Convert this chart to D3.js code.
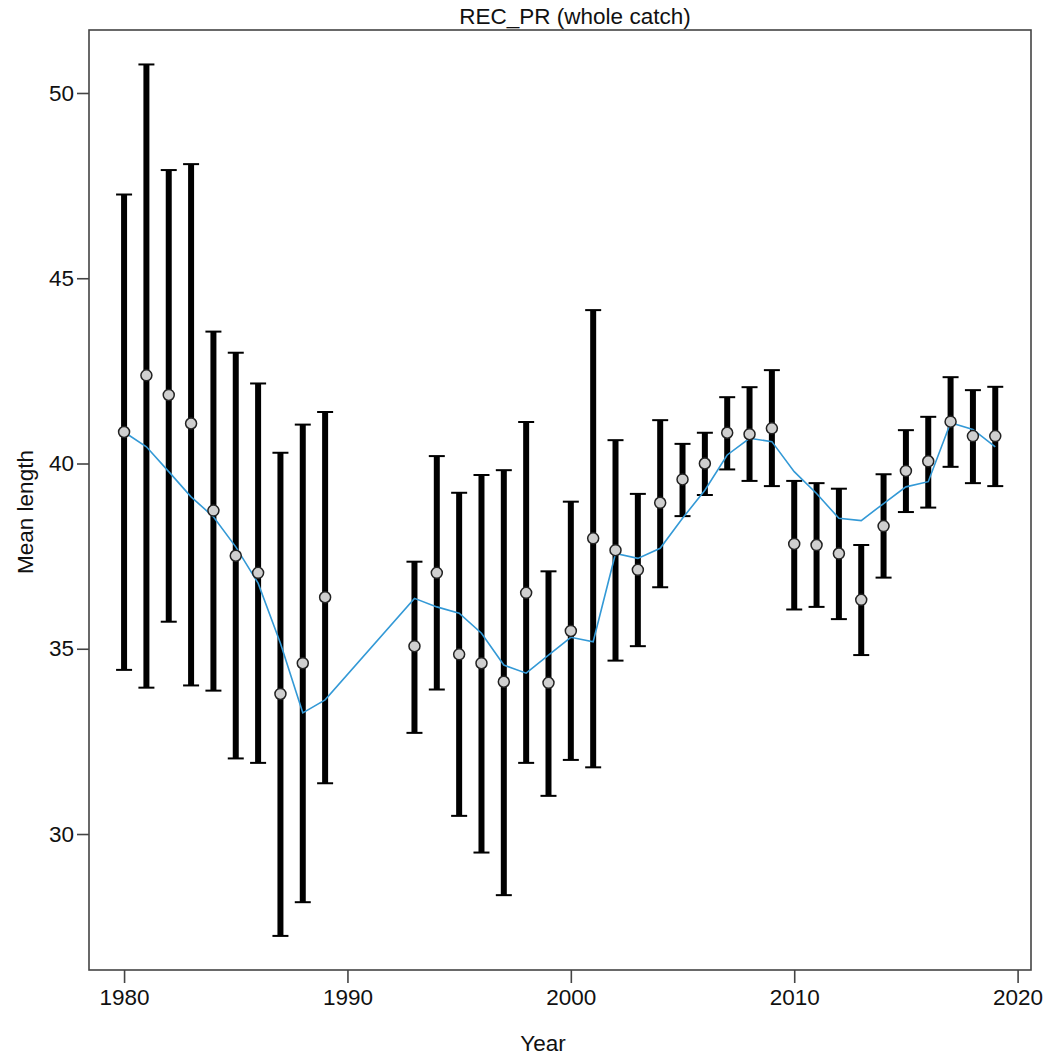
<!DOCTYPE html>
<html>
<head>
<meta charset="utf-8">
<script src="https://cdn.jsdelivr.net/npm/d3@7"></script>
<style>
  html, body { margin: 0; padding: 0; background: #fff; }
  svg { display: block; }
  text { font-family: "Liberation Sans", Arial, sans-serif; fill: #111; }
</style>
</head>
<body>
<svg id="chart" width="1050" height="1057"></svg>
<script>
const title = "REC_PR (whole catch)";
const xLabel = "Year";
const yLabel = "Mean length";

const years = [1980,1981,1982,1983,1984,1985,1986,1987,1988,1989,
  1993,1994,1995,1996,1997,1998,1999,2000,2001,2002,2003,2004,2005,
  2006,2007,2008,2009,2010,2011,2012,2013,2014,2015,2016,2017,2018,2019];
const meanLen = [40.85,42.38,41.85,41.08,38.73,37.51,37.05,33.78,34.61,36.39,
  35.07,37.05,34.85,34.61,34.11,36.51,34.08,35.48,37.98,37.66,37.13,38.94,39.57,
  40.00,40.83,40.79,40.95,37.83,37.80,37.57,36.32,38.31,39.80,40.06,41.13,40.74,40.74];
const lowerCI = [34.43,33.95,35.73,34.01,33.87,32.04,31.92,27.25,28.16,31.37,
  32.73,33.90,30.49,29.50,28.35,31.92,31.03,32.00,31.80,34.68,35.07,36.66,38.58,
  39.15,39.84,39.53,39.39,36.06,36.13,35.80,34.83,36.92,38.69,38.81,39.91,39.47,39.39];
const upperCI = [47.26,50.77,47.92,48.08,43.56,42.99,42.16,40.29,41.05,41.39,
  37.35,40.20,39.21,39.69,39.82,41.12,37.09,38.97,44.14,40.63,39.18,41.17,40.53,
  40.83,41.79,42.06,42.52,39.53,39.47,39.32,37.80,39.71,40.90,41.26,42.33,41.98,42.07];
const smoothFit = [40.85,40.45,39.78,39.10,38.56,37.75,36.77,35.15,33.27,33.62,
  36.36,36.13,35.96,35.42,34.56,34.34,34.83,35.31,35.19,37.57,37.44,37.71,38.52,
  39.28,40.23,40.68,40.59,39.78,39.19,38.52,38.46,38.92,39.37,39.51,41.10,40.92,40.45];
const xTicks = [1980,1990,2000,2010,2020];
const yTicks = [30,35,40,45,50];

const svg = d3.select("#chart");
const mLeft = 89, mRight = 1031, mTop = 30, mBottom = 970;

const x = d3.scaleLinear().domain([1978.43, 2020.6]).range([mLeft, mRight]);
const y = d3.scaleLinear().domain([26.33, 51.70]).range([mBottom, mTop]);

// frame
svg.append("rect")
  .attr("x", mLeft).attr("y", mTop)
  .attr("width", mRight - mLeft).attr("height", mBottom - mTop)
  .attr("fill", "none").attr("stroke", "#444").attr("stroke-width", 1.6);

// axes
const xAxis = d3.axisBottom(x).tickValues(xTicks).tickFormat(d3.format("d"))
  .tickSizeInner(13).tickSizeOuter(0).tickPadding(6);
const gx = svg.append("g").attr("transform", `translate(0,${mBottom})`).call(xAxis);
gx.select(".domain").remove();
gx.selectAll("line").attr("stroke", "#444").attr("stroke-width", 1.6);
gx.selectAll("text").style("font-size", "22.5px").attr("fill", "#111")
  .style("font-family", "'Liberation Sans', Arial, sans-serif");

const yAxis = d3.axisLeft(y).tickValues(yTicks).tickFormat(d3.format("d"))
  .tickSizeInner(12).tickSizeOuter(0).tickPadding(3);
const gy = svg.append("g").attr("transform", `translate(${mLeft},0)`).call(yAxis);
gy.select(".domain").remove();
gy.selectAll("line").attr("stroke", "#444").attr("stroke-width", 1.6);
gy.selectAll("text").style("font-size", "22.5px").attr("fill", "#111")
  .style("font-family", "'Liberation Sans', Arial, sans-serif");

// labels
svg.append("text").attr("x", 575).attr("y", 24).attr("text-anchor", "middle")
  .style("font-size", "22.5px").text(title);
svg.append("text").attr("x", 543).attr("y", 1051).attr("text-anchor", "middle")
  .style("font-size", "22.5px").text(xLabel);
svg.append("text").attr("transform", "translate(33,512) rotate(-90)")
  .attr("text-anchor", "middle").style("font-size", "22.5px").text(yLabel);

const data = years.map((yr, i) => ({yr, m: meanLen[i], lo: lowerCI[i], hi: upperCI[i], f: smoothFit[i]}));

// error bars
const eb = svg.append("g");
eb.selectAll("line.bar").data(data).join("line").attr("class", "bar")
  .attr("x1", d => x(d.yr)).attr("x2", d => x(d.yr))
  .attr("y1", d => y(d.lo)).attr("y2", d => y(d.hi))
  .attr("stroke", "#000").attr("stroke-width", 6);
eb.selectAll("line.capHi").data(data).join("line").attr("class", "capHi")
  .attr("x1", d => x(d.yr) - 8).attr("x2", d => x(d.yr) + 8)
  .attr("y1", d => y(d.hi)).attr("y2", d => y(d.hi))
  .attr("stroke", "#000").attr("stroke-width", 2);
eb.selectAll("line.capLo").data(data).join("line").attr("class", "capLo")
  .attr("x1", d => x(d.yr) - 8).attr("x2", d => x(d.yr) + 8)
  .attr("y1", d => y(d.lo)).attr("y2", d => y(d.lo))
  .attr("stroke", "#000").attr("stroke-width", 2);

// smoother
svg.append("path").datum(data)
  .attr("d", d3.line().x(d => x(d.yr)).y(d => y(d.f)))
  .attr("fill", "none").attr("stroke", "#3399d6").attr("stroke-width", 1.6);

// points
svg.append("g").selectAll("circle").data(data).join("circle")
  .attr("cx", d => x(d.yr)).attr("cy", d => y(d.m)).attr("r", 5.5)
  .attr("fill", "#cfcfcf").attr("stroke", "#222").attr("stroke-width", 1.5);
</script>
</body>
</html>
